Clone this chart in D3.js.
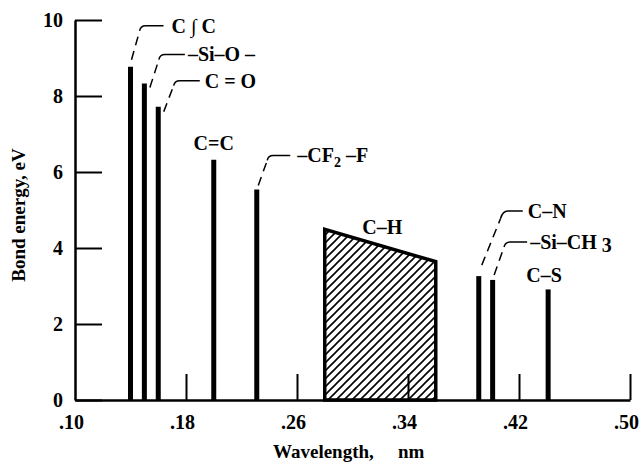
<!DOCTYPE html>
<html>
<head>
<meta charset="utf-8">
<script src="https://cdn.jsdelivr.net/npm/d3@7"></script>
<style>
  body { margin: 0; background: #fff; }
  svg { display: block; }
  text { font-family: "Liberation Serif", "Times New Roman", serif; font-weight: bold; fill: #000; }
</style>
</head>
<body>
<div id="chart"></div>
<script>
const WIDTH = 643;
const HEIGHT = 472;

// bonds drawn as single lines
const bondNames = ['C≡C', 'Si-O', 'C=O', 'C=C', 'CF2-F', 'C-N', 'Si-CH3', 'C-S'];
const bondWavelengths = [0.140, 0.150, 0.160, 0.200, 0.231, 0.391, 0.401, 0.441];
const bondEnergies = [8.77, 8.33, 7.72, 6.32, 5.54, 3.26, 3.16, 2.91];

// C-H band: wavelength range and energy at each end
const chWavelengths = [0.280, 0.360];
const chEnergies = [4.49, 3.64];

const xTicks = [0.10, 0.18, 0.26, 0.34, 0.42, 0.50];
const yTicks = [0, 2, 4, 6, 8, 10];

// label layout (pixels), keyed by bond name
// leader: [dx from bar, dy from bar top, run, rise, horizontal length]
const labelLayout = {
  'C≡C':    { parts: [['C ∫ C']], leader: [1, -7, 9, 32, 23], gap: 8 },
  'Si-O':   { parts: [['–Si–O –']], leader: [5.5, 4, 10, 31, 25], gap: 3 },
  'C=O':    { parts: [['C = O']], leader: [5.5, 5, 11, 29, 25], gap: 5 },
  'C=C':    { parts: [['C=C']], above: 10, dx: 0 },
  'CF2-F':  { parts: [['–CF'], ['2', 5, 14], [' –F', -5]], leader: [1.5, -4, 10, 28, 22], gap: 7 },
  'C-N':    { parts: [['C–N']], leader: [3, -11, 21, 52, 20], gap: 5 },
  'Si-CH3': { parts: [['–Si–CH'], [' 3', 3]], leader: [1.5, -5, 11, 31, 22], gap: 3 },
  'C-S':    { parts: [['C–S']], above: 7, dx: -4 }
};

const x = d3.scaleLinear().domain([0.10, 0.50]).range([75, 630]);
const y = d3.scaleLinear().domain([0, 10]).range([400, 20]);

const svg = d3.select('#chart')
  .append('svg')
  .attr('width', WIDTH)
  .attr('height', HEIGHT);

const defs = svg.append('defs');
defs.append('pattern')
  .attr('id', 'hatch')
  .attr('patternUnits', 'userSpaceOnUse')
  .attr('width', 8)
  .attr('height', 8)
  .append('path')
  .attr('d', 'M0,8 L8,0 M-2,2 L2,-2 M6,10 L10,6')
  .attr('stroke', '#000')
  .attr('stroke-width', 1.6);

// C-H band
const chPoints = [
  [chWavelengths[0], 0],
  [chWavelengths[0], chEnergies[0]],
  [chWavelengths[1], chEnergies[1]],
  [chWavelengths[1], 0]
];
svg.append('path')
  .attr('d', d3.line().x(d => x(d[0])).y(d => y(d[1]))(chPoints) + 'Z')
  .attr('fill', 'url(#hatch)')
  .attr('stroke', '#000')
  .attr('stroke-width', 3.5)
  .attr('stroke-linejoin', 'miter');

svg.append('text')
  .attr('x', x(d3.mean(chWavelengths)) + 2)
  .attr('y', y(chEnergies[0]) + 5)
  .attr('text-anchor', 'middle')
  .attr('font-size', 20)
  .text('C–H');

// bond lines
const bonds = bondNames.map((name, i) => ({
  name,
  wavelength: bondWavelengths[i],
  energy: bondEnergies[i]
}));

svg.append('g')
  .selectAll('line')
  .data(bonds)
  .join('line')
  .attr('x1', d => x(d.wavelength))
  .attr('x2', d => x(d.wavelength))
  .attr('y1', y(0))
  .attr('y2', d => y(d.energy))
  .attr('stroke', '#000')
  .attr('stroke-width', 5);

// labels and leader lines
const labels = svg.append('g');
bonds.forEach(d => {
  const layout = labelLayout[d.name];
  const bx = x(d.wavelength);
  const by = y(d.energy);
  let tx, ty, anchor;

  if (layout.leader) {
    const [dx0, dy0, run, rise, horiz] = layout.leader;
    const sx = bx + dx0;
    const sy = by + dy0;
    const ex = sx + run;
    const ey = sy - rise;
    labels.append('line')
      .attr('x1', sx).attr('y1', sy)
      .attr('x2', ex - run * 0.1).attr('y2', ey + rise * 0.1)
      .attr('stroke', '#000')
      .attr('stroke-width', 1.5)
      .attr('stroke-dasharray', '9,6');
    labels.append('path')
      .attr('d', `M${ex - run * 0.1},${ey + rise * 0.1} Q${ex},${ey - 2} ${ex + 5},${ey - 2} L${ex + horiz},${ey - 2}`)
      .attr('fill', 'none')
      .attr('stroke', '#000')
      .attr('stroke-width', 1.5);
    tx = ex + horiz + layout.gap;
    ty = ey + 5;
    anchor = 'start';
  } else {
    tx = bx + layout.dx;
    ty = by - layout.above;
    anchor = 'middle';
  }

  const label = labels.append('text')
    .attr('x', tx)
    .attr('y', ty)
    .attr('text-anchor', anchor)
    .attr('font-size', 20);
  layout.parts.forEach(([str, dy, size]) => {
    const span = label.append('tspan').text(str);
    if (dy) span.attr('dy', dy);
    if (size) span.attr('font-size', size);
  });
});

// axes
const xAxis = d3.axisBottom(x)
  .tickValues(xTicks)
  .tickSizeInner(-26)
  .tickSizeOuter(0)
  .tickPadding(15)
  .tickFormat(d => d3.format('.2f')(d).slice(1));

const yAxis = d3.axisLeft(y)
  .tickValues(yTicks)
  .tickSizeInner(-27)
  .tickSizeOuter(0)
  .tickPadding(12)
  .tickFormat(d3.format('d'));

const gx = svg.append('g')
  .attr('transform', `translate(0,${y(0)})`)
  .call(xAxis);

const gy = svg.append('g')
  .attr('transform', `translate(${x(0.10)},0)`)
  .call(yAxis);

[gx, gy].forEach(g => {
  g.select('.domain').attr('stroke', '#000').attr('stroke-width', 2.5);
  g.selectAll('.tick line').attr('stroke', '#000').attr('stroke-width', 2);
  g.selectAll('.tick text')
    .attr('font-family', '"Liberation Serif", "Times New Roman", serif')
    .attr('font-weight', 'bold')
    .attr('font-size', 20)
    .attr('fill', '#000');
});
gx.selectAll('.tick text').attr('dx', -4);
gx.selectAll('.tick').filter(d => d === 0.10).select('line').remove();

svg.append('text')
  .attr('x', 273)
  .attr('y', 458)
  .attr('font-size', 19)
  .text('Wavelength,');

svg.append('text')
  .attr('x', 398)
  .attr('y', 458)
  .attr('font-size', 19)
  .text('nm');

svg.append('text')
  .attr('transform', 'translate(25,215) rotate(-90)')
  .attr('text-anchor', 'middle')
  .attr('font-size', 19)
  .text('Bond energy, eV');
</script>
</body>
</html>
